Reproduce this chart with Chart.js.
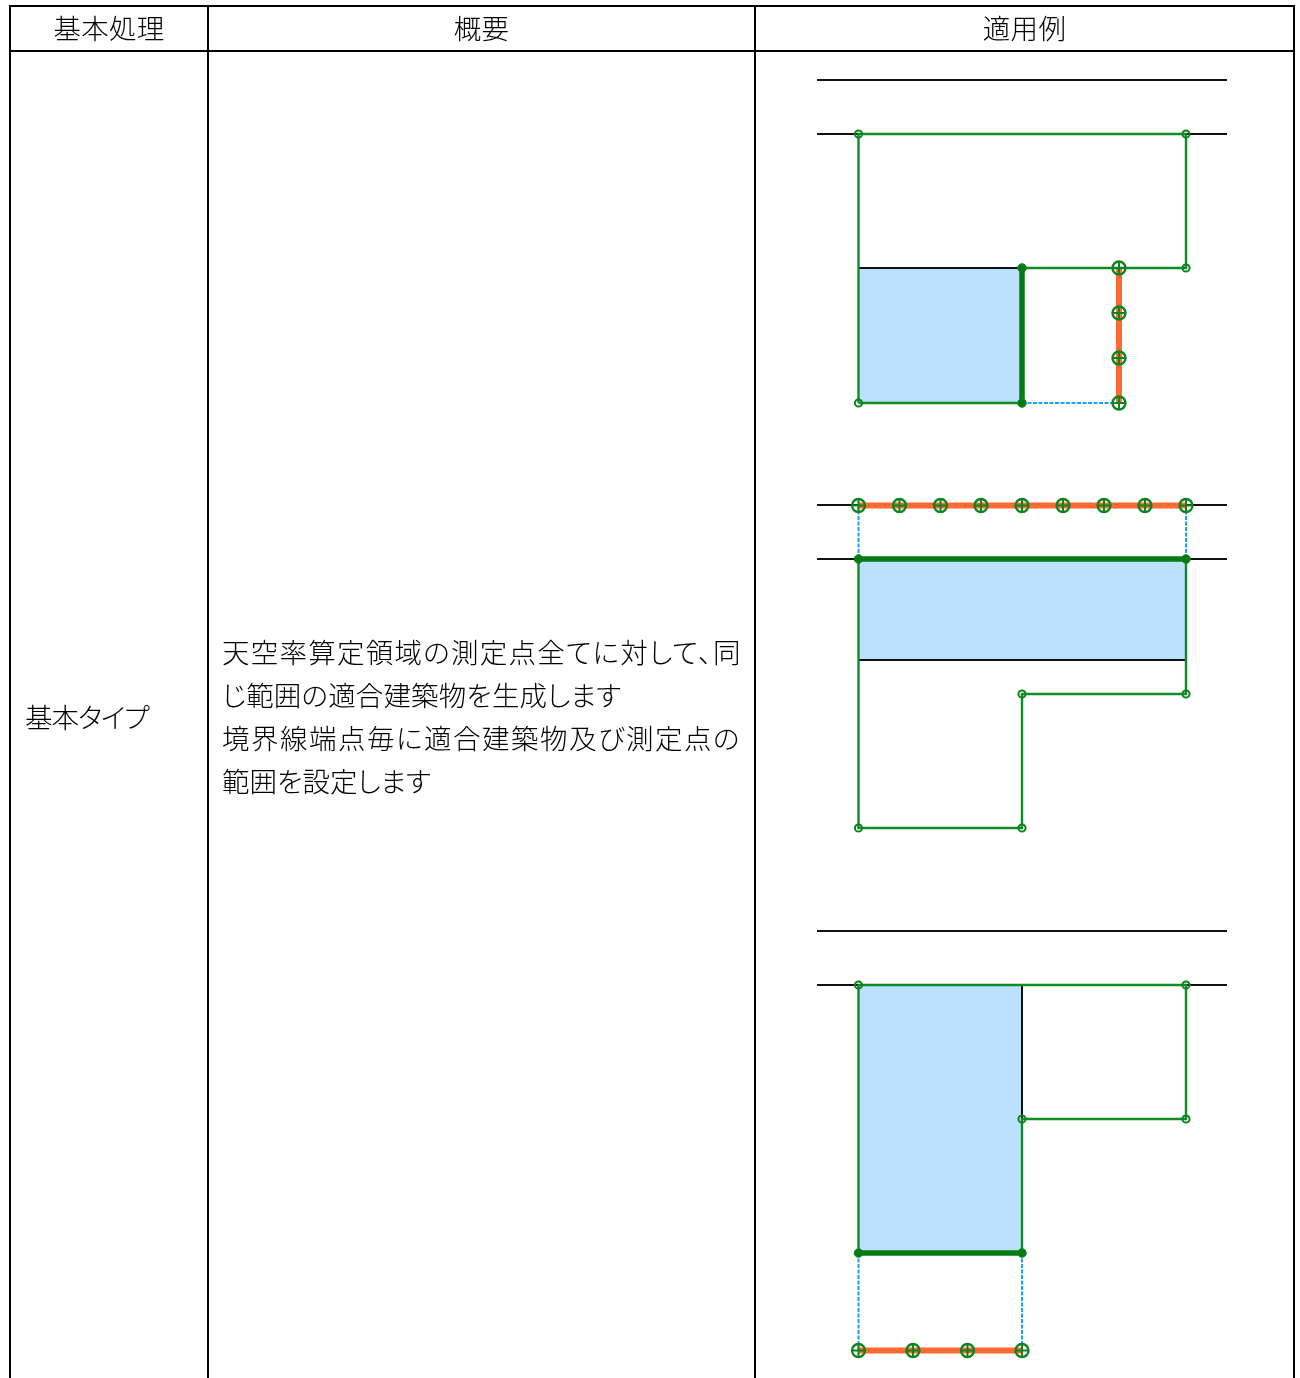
<!DOCTYPE html>
<html lang="ja"><head><meta charset="utf-8">
<style>
html,body{margin:0;padding:0;background:#fff;overflow:hidden}
#wrap{position:relative;width:1300px;height:1378px}
canvas{position:absolute;left:0;top:0}
.t{position:absolute;white-space:nowrap;font-family:"Noto Sans CJK JP";font-size:27.5px;font-weight:300;line-height:43px;color:#000;font-feature-settings:"palt"}
</style>
<script src="https://cdn.jsdelivr.net/npm/chart.js@4/dist/chart.umd.js"></script>
</head><body><div id="wrap"><canvas id="c" width="1300" height="1378"></canvas></div>
<script>
// Table text
const headers = [["基本処理",109],["概要",481.5],["適用例",1024.5]];
const rowLabel = "基本タイプ";
const bodyLines = ["天空率算定領域の測定点全てに対して、同","じ範囲の適合建築物を生成します","境界線端点毎に適合建築物及び測定点の","範囲を設定します"];
const bodySpacing = [1.25,0.15,1.5,0];

// Table frame (segments separated by null), page units
const gridLines = [[9,6],[1295,6],null,[9,51],[1295,51],null,[10,6],[10,1378],null,[208,6],[208,1378],null,[755,6],[755,1378],null,[1294,6],[1294,1378]];

// Building / boundary lines in black
const blackLines = [[817,80],[1227,80],null,[817,134],[1227,134],null,[858.5,268],[1022,268],null,
  [817,505],[1227,505],null,[817,559],[1227,559],null,[858.5,660],[1186,660],null,
  [817,931],[1227,931],null,[817,985],[1227,985],null,[1022,985],[1022,1119]];

// Conforming building outlines
const greenLines = [[858.5,403],[858.5,134],[1186,134],[1186,268],[1022,268],null,[858.5,403],[1022,403],null,
  [858.5,559],[858.5,828],[1022,828],[1022,694],[1186,694],[1186,559],null,
  [858.5,1253],[858.5,985],[1186,985],[1186,1119],[1022,1119],[1022,1253]];

// Thick boundary edges
const thickLines = [[1022,268],[1022,403],null,[858.5,559],[1186,559],null,[858.5,1253],[1022,1253]];
// Measurement lines
const orangeLines = [[1119,268],[1119,403],null,[858.5,505.5],[1186,505.5],null,[858.5,1350.5],[1022,1350.5]];
// Dashed links
const dashLines = [[1022,403],[1119,403],null,[858.5,505],[858.5,559],null,[1186,505],[1186,559],null,[858.5,1253],[858.5,1350.5],null,[1022,1253],[1022,1350.5]];

// Sky-blue regions: top edge + lower value
const regionA = [[858.5,268],[1022,268]]; const regionABottom = 403;
const regionB = [[858.5,559],[1186,559]]; const regionBBottom = 660;
const regionC = [[858.5,985],[1022,985]]; const regionCBottom = 1253;

// Points
const openPoints = [[858.5,134],[1186,134],[1186,268],[858.5,403],
  [1022,694],[1186,694],[858.5,828],[1022,828],
  [858.5,985],[1186,985],[1186,1119],[1022,1119]];
const solidPoints = [[1022,268],[1022,403],[858.5,559],[1186,559],[858.5,1253],[1022,1253]];
const measurePoints = [[1119,268],[1119,313],[1119,358],[1119,403],
  [858.5,505.5],[899.5,505.5],[940.5,505.5],[981,505.5],[1022,505.5],[1063,505.5],[1104,505.5],[1145,505.5],[1186,505.5],
  [858.5,1350.5],[913,1350.5],[967.5,1350.5],[1022,1350.5]];

const xy = a => a.map(p => p ? {x:p[0],y:p[1]} : {x:NaN,y:NaN});
const line = (d,color,w,order,extra) => Object.assign({type:'scatter',showLine:true,data:xy(d),borderColor:color,borderWidth:w,pointRadius:0,order:order,spanGaps:false,fill:false,tension:0,borderCapStyle:'butt',borderJoinStyle:'miter'},extra||{});
const region = (d,b) => line(d,'rgba(0,0,0,0)',0,20,{fill:{target:{value:b}},backgroundColor:'#BBE1FF'});
const pts = (d,style,r,fillc,w,order) => ({type:'scatter',showLine:false,data:xy(d),pointStyle:style,pointRadius:r,pointBorderColor:'#0E8420',pointBackgroundColor:fillc,pointBorderWidth:w,order:order});

new Chart(document.getElementById('c'),{
  type:'scatter',
  data:{datasets:[
    region(regionA,regionABottom),region(regionB,regionBBottom),region(regionC,regionCBottom),
    line(gridLines,'#000',2,15),
    line(blackLines,'#111',2,12),
    line(orangeLines,'#FF6A33',6,11),
    line(greenLines,'#118B25',2.4,10),
    line(dashLines,'#1E9FFF',2,9,{borderDash:[4,1.5]}),
    line(thickLines,'#067A12',5.5,8),
    pts(openPoints,'circle',3.6,'rgba(0,0,0,0)',2,5),
    pts(solidPoints,'circle',4.3,'#067A12',1,5),
    pts(measurePoints,'circle',6.5,'rgba(0,0,0,0)',2.4,4),
    pts(measurePoints,'cross',6.5,'rgba(0,0,0,0)',2,4)
  ]},
  options:{responsive:false,animation:false,devicePixelRatio:1,
    layout:{padding:0,autoPadding:false},
    plugins:{legend:{display:false},tooltip:{enabled:false}},
    scales:{x:{type:'linear',display:false,min:0,max:1300},y:{type:'linear',display:false,min:0,max:1378,reverse:true}}
  }
});

// Real text overlay
const wrap=document.getElementById('wrap');
function put(txt,x,cy,center,ls){const s=document.createElement('div');s.className='t';s.textContent=txt;
  s.style.top=(cy-21.5)+'px';s.style.left=x+'px';if(center)s.style.transform='translateX(-50%)';if(ls)s.style.letterSpacing=ls+'px';wrap.appendChild(s);}
headers.forEach(h=>put(h[0],h[1],27,true,0.3));
put(rowLabel,25,716,false,-1);
bodyLines.forEach((l,i)=>put(l,222,651+i*43,false,bodySpacing[i]));
</script></body></html>
